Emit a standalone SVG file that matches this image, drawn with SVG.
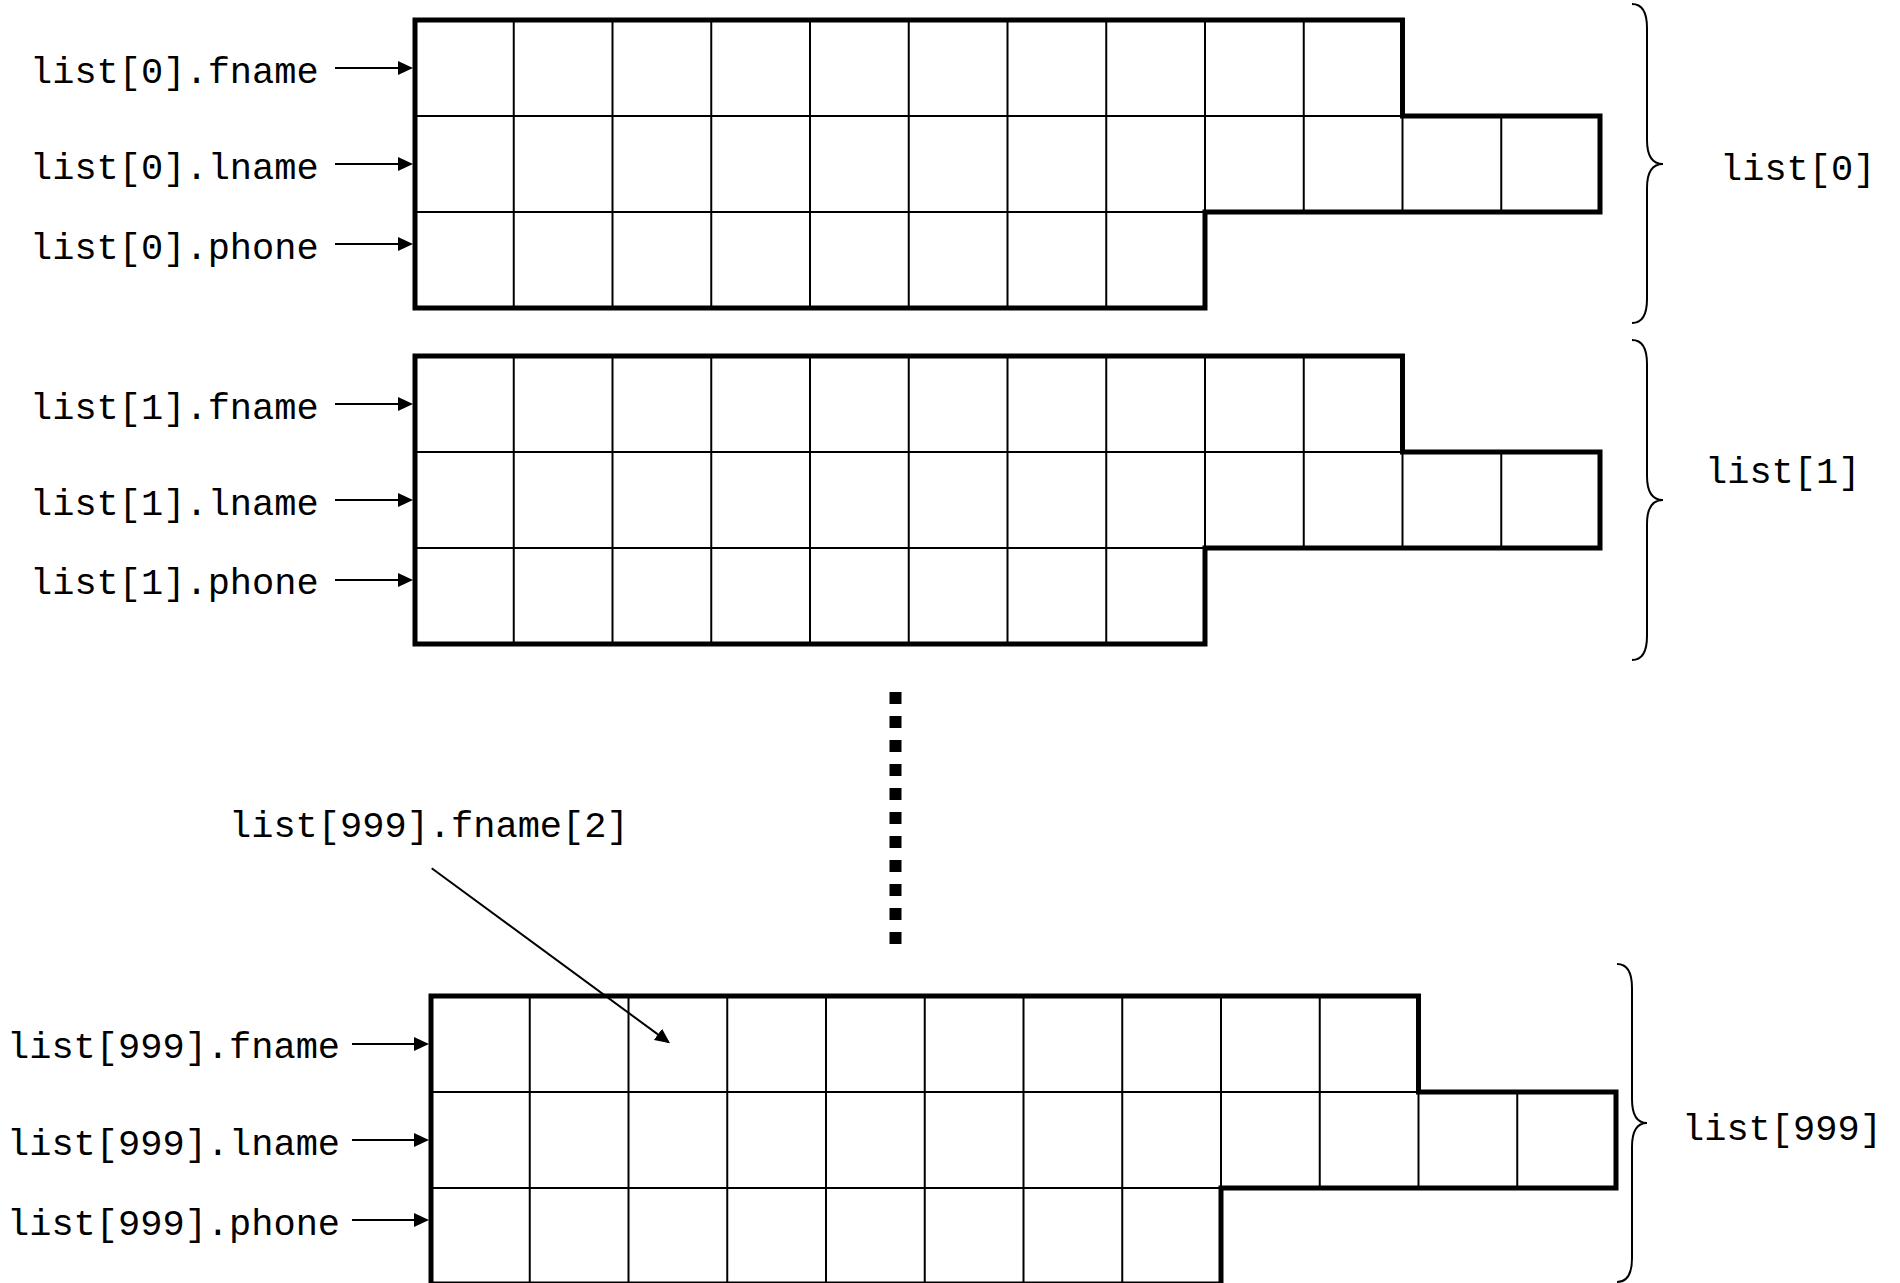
<svg xmlns="http://www.w3.org/2000/svg" xmlns:xlink="http://www.w3.org/1999/xlink" width="1900" height="1283" viewBox="0 0 1900 1283">
<style>
text{font-family:"Liberation Mono","Courier New",monospace;font-size:37px;fill:#000}
.outline{fill:none;stroke:#000;stroke-width:5;stroke-linejoin:miter}
.cell{stroke:#000;stroke-width:2;fill:none}
.conn{stroke:#000;stroke-width:2;fill:none}
.brace{stroke:#000;stroke-width:2;fill:none}
.dots{stroke:#000;stroke-width:12;stroke-dasharray:12 12;fill:none}
</style>
<defs>
<marker id="ah" viewBox="0 0 15 14" refX="13" refY="7" markerWidth="15" markerHeight="14" markerUnits="userSpaceOnUse" orient="auto">
<path d="M0,0 L15,7 L0,14 z" fill="#000"/>
</marker>
<g id="grid">
<path class="cell" d="M0,96 H987.5 M0,192 H790
M98.75,0 V288 M197.5,0 V288 M296.25,0 V288 M395,0 V288 M493.75,0 V288 M592.5,0 V288 M691.25,0 V288
M790,0 V192 M888.75,0 V192 M987.5,96 V192 M1086.25,96 V192"/>
<path class="outline" d="M0,0 H987.5 V96 H1185 V192 H790 V288 H0 Z"/>
</g>
</defs>
<rect width="1900" height="1283" fill="#fff"/>

<g id="list0">
<use xlink:href="#grid" x="415" y="20"/>
<text x="30" y="83">list[0].fname</text>
<text x="30" y="179">list[0].lname</text>
<text x="30" y="259">list[0].phone</text>
<path class="brace" d="M1632,4 Q1647,4 1647,28 V140 Q1647,164 1663,164 Q1647,164 1647,188 V299 Q1647,323 1632,323"/>
<text x="1720" y="180">list[0]</text>
</g>

<g id="list1">
<use xlink:href="#grid" x="415" y="356"/>
<text x="30" y="419">list[1].fname</text>
<text x="30" y="515">list[1].lname</text>
<text x="30" y="594">list[1].phone</text>
<path class="brace" d="M1632,340 Q1647,340 1647,364 V476 Q1647,500 1663,500 Q1647,500 1647,524 V636 Q1647,660 1632,660"/>
<text x="1705" y="483">list[1]</text>
</g>

<g id="ellipsis">
<line class="dots" x1="895.5" y1="692" x2="895.5" y2="944"/>
</g>

<g id="list999">
<use xlink:href="#grid" x="431" y="996"/>
<text x="7" y="1058">list[999].fname</text>
<text x="7" y="1155">list[999].lname</text>
<text x="7" y="1235">list[999].phone</text>
<path class="brace" d="M1617,964 Q1632,964 1632,988 V1099 Q1632,1123 1647,1123 Q1632,1123 1632,1147 V1258 Q1632,1282 1617,1282"/>
<text x="1682" y="1140">list[999]</text>
</g>

<g id="fname2-label">
<text x="229" y="837">list[999].fname[2]</text>
</g>

<g id="connectors">
<line class="conn" x1="335" y1="68" x2="411" y2="68" marker-end="url(#ah)"/>
<line class="conn" x1="335" y1="164" x2="411" y2="164" marker-end="url(#ah)"/>
<line class="conn" x1="335" y1="244" x2="411" y2="244" marker-end="url(#ah)"/>
<line class="conn" x1="335" y1="404" x2="411" y2="404" marker-end="url(#ah)"/>
<line class="conn" x1="335" y1="500" x2="411" y2="500" marker-end="url(#ah)"/>
<line class="conn" x1="335" y1="580" x2="411" y2="580" marker-end="url(#ah)"/>
<line class="conn" x1="352" y1="1044" x2="427" y2="1044" marker-end="url(#ah)"/>
<line class="conn" x1="352" y1="1140" x2="427" y2="1140" marker-end="url(#ah)"/>
<line class="conn" x1="352" y1="1220" x2="427" y2="1220" marker-end="url(#ah)"/>
<line class="conn" x1="431.7" y1="868.3" x2="668.4" y2="1042.1" marker-end="url(#ah)"/>
</g>
</svg>
